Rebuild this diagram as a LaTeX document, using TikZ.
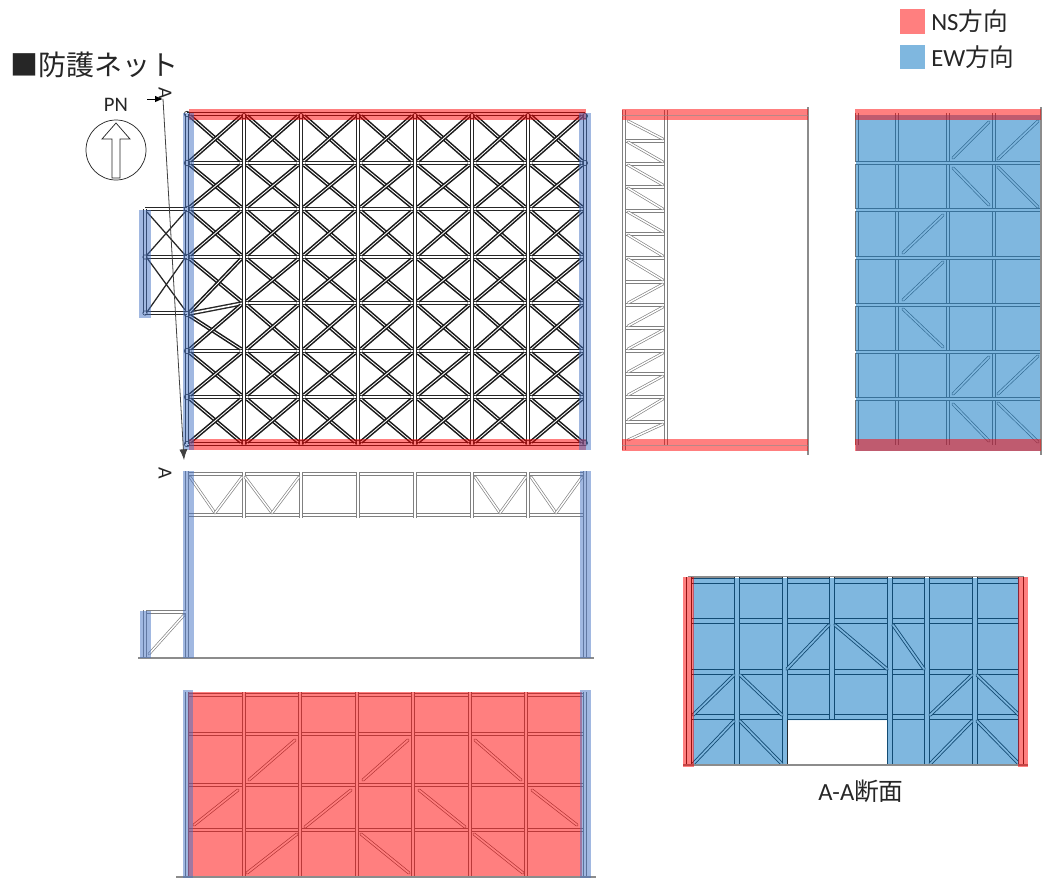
\documentclass[tikz,border=0pt]{standalone}
\usepackage{fontspec}
\setmainfont{Carlito}
\newfontfamily\jp{Noto Sans CJK JP}
\usetikzlibrary{arrows.meta}
\definecolor{bandred}{RGB}{255,0,0}
\definecolor{panelblue}{RGB}{0,112,192}
\definecolor{bandblue}{RGB}{68,114,196}
\tikzset{
  x=.75pt,y=-.75pt,
  planmem/.style={draw=black!85,line width=1.05pt,double=white,double distance=1.2pt},
  plandiag/.style={draw=black!90,line width=1.15pt,double=white,double distance=.65pt},
  thindiag/.style={draw=black!85,line width=.95pt},
  graymem/.style={draw=black!50,line width=.7pt,double=white,double distance=1.9pt},
  graydiag/.style={draw=black!50,line width=.5pt,double=white,double distance=1.1pt,line cap=round},
  softmem/.style={draw=black!55,line width=.55pt,double=white,double distance=2.2pt},
  softbrace/.style={draw=black!60,line width=.5pt,double=white,double distance=1.3pt,line cap=round},
  panelmem/.style={draw=black!85,line width=.7pt,double=white,double distance=2.4pt},
  panelbrace/.style={draw=black!85,line width=.65pt,double=white,double distance=1.3pt,line cap=round},
  ground/.style={draw=black!45,line width=.8pt},
  redband/.style={fill=bandred,fill opacity=.5,draw=none},
  blueband/.style={fill=bandblue,fill opacity=.5,draw=none},
  bluepanel/.style={fill=panelblue,fill opacity=.5,draw=none},
  joint/.style={draw=black!85,line width=.5pt},
  label/.style={inner sep=0pt,text=black!85},
}
\begin{document}
\begin{tikzpicture}
\useasboundingbox (0,0) rectangle (1042,879);

% ---------- Plan ----------
\foreach \y in {163,209,257,351,397} \draw[planmem] (187,\y) -- (585,\y);
\draw[planmem] (244,303) -- (585,303);
\draw[planmem] (187,114) -- (585,114);
\draw[planmem] (187,444) -- (585,444);
\draw[planmem] (187,314) -- (244,303);
\foreach \ya/\yb in {114/163,163/209,209/257,257/303,303/351,351/397,397/444}{
  \foreach \xa/\xb in {244/301,301/358,358/415,415/472,472/528,528/585}{
    \draw[plandiag] (\xa+3,\ya+2) -- (\xb-3,\yb-2);
    \draw[plandiag] (\xa+3,\yb-2) -- (\xb-3,\ya+2);
  }
}
\foreach \yal/\ybl/\yar/\ybr in {114/163/114/163,163/209/163/209,209/257/209/257,257/314/257/303,314/351/303/351,351/397/351/397,397/444/397/444}{
    \draw[plandiag] (190,\yal+2) -- (241,\ybr-2);
    \draw[plandiag] (190,\ybl-2) -- (241,\yar+2);
}
\foreach \x in {187,244,301,358,415,472,528,585} \draw[planmem] (\x,114) -- (\x,444);
% side bay
\foreach \y in {209,257,313} \draw[planmem] (145,\y) -- (187,\y);
\draw[planmem] (145,209) -- (145,313);
\draw[thindiag] (147,212) -- (185,255);
\draw[thindiag] (147,255) -- (185,212);
\draw[thindiag] (147,258) -- (185,310);
\draw[thindiag] (147,312) -- (185,258);
% joints
\foreach \y in {114,163,209,257,314,351,397,444} \draw[joint] (187,\y) circle[radius=2.8];
\foreach \x in {244,301,358,415,472,528,585}{
  \draw[joint] (\x,116) circle[radius=2.6];
  \draw[joint] (\x,443) circle[radius=2.6];
}
\draw[joint] (585,163) circle[radius=2.6];
\draw[joint] (145,257) circle[radius=2.2];
\draw[joint] (145,313) circle[radius=2.2];
% bands
\fill[redband] (189,109) rectangle (586,120);
\fill[redband] (189,439) rectangle (586,450);
\fill[blueband] (183,113) rectangle (194,450);
\fill[blueband] (579,113) rectangle (591,450);
\fill[blueband] (139,210) rectangle (151,318);

% ---------- Section arrows ----------
\coordinate (sa) at (147,99);
\coordinate (sb) at (163,99);
\coordinate (sc) at (184,460);
\draw[line width=.75pt,-{Latex[length=6pt,width=5pt]}] (sa) -- (sb);
\draw[line width=.6pt,black!75,-{Latex[length=8pt,width=6pt]}] (sb) -- (sc);
\node[label,rotate=-90,font=\fontsize{15}{15}\selectfont] (atop) at (165,93) {A};
\node[label,rotate=-90,font=\fontsize{15}{15}\selectfont] (abot) at (165,473) {A};

% ---------- South elevation, open ----------
\draw[graymem] (189,474) -- (585,474);
\draw[graymem] (189,515) -- (585,515);
\foreach \x in {244,301,358,415,472,528} \draw[graymem] (\x,472) -- (\x,518);
\foreach \xa/\xm/\xb in {190/215/242,245/272/299,475/500/526,531/556/582}{
  \draw[graydiag] (\xa,477) -- (\xm,513);
  \draw[graydiag] (\xm,513) -- (\xb,477);
}
\draw[graymem] (187,471) -- (187,658);
\draw[graymem] (585,471) -- (585,658);
\draw[graymem] (145,612) -- (186,612);
\draw[graymem] (145,610) -- (145,658);
\draw[graydiag] (149,654) -- (184,615);
\draw[ground] (138,658) -- (594,658);
\fill[blueband] (183,471) rectangle (194,658);
\fill[blueband] (580,471) rectangle (591,658);
\fill[blueband] (140,611) rectangle (151,658);

% ---------- Red elevation ----------
\foreach \y in {695,734,785,830} \draw[softmem] (187,\y) -- (585,\y);
\foreach \x in {244,300,357,413,470,526} \draw[softmem] (\x,692) -- (\x,877);
\draw[softmem] (187,692) -- (187,877);
\draw[softmem] (585,692) -- (585,877);
\foreach \a/\b/\c/\d in {249/780/295/740,363/780/408/740,475/740/521/780,194/825/238/790,305/827/351/790,419/790/465/827,532/790/577/825,247/873/297/834,361/834/409/873,474/834/523/873}
  \draw[softbrace] (\a,\b) -- (\c,\d);
\fill[redband] (188,692) rectangle (582,878);
\draw[ground] (176,877) -- (596,877);
\fill[blueband] (183,690) rectangle (193,878);
\fill[blueband] (580,690) rectangle (591,878);

% ---------- Middle elevation ----------
\foreach \y in {141,164,187,211,234,258,282,305,328,351,374,397,422}
  \draw[graymem] (624,\y) -- (666,\y);
\draw[graymem] (624,110) -- (624,450);
\draw[graymem] (666,110) -- (666,445);
\foreach \ya/\yb in {120/141,141/164,164/187,187/211,211/234,234/258,258/282}
  \draw[graydiag] (628,\ya+1) -- (663,\yb-2);
\foreach \ya/\yb in {282/305,305/328,328/351,351/374,374/397,397/422,422/442}
  \draw[graydiag] (628,\yb-2) -- (663,\ya+2);
\draw[ground] (808,107) -- (808,455);
\fill[redband] (622,109) rectangle (808,120);
\draw[draw=black!45,line width=.5pt,opacity=.6] (622,115) -- (808,115);
\fill[redband] (622,439) rectangle (808,451);
\draw[draw=black!45,line width=.5pt,opacity=.6] (622,445) -- (808,445);

% ---------- East elevation ----------
\foreach \x in {857,897,948,994} \draw[softmem] (\x,113) -- (\x,445);
\foreach \y in {163,210,258,305,352,399} \draw[softmem] (855,\y) -- (1040,\y);
\foreach \a/\b/\c/\d in {953/158/989/122,998/159/1038/121,953/168/989/205,998/167/1038/207,903/253/943/215,903/300/943/262,903/309/943/347,953/394/989/357,998/394/1038/356,953/404/989/441,998/403/1038/442}
  \draw[softbrace] (\a,\b) -- (\c,\d);
\fill[bluepanel] (856,115) rectangle (1040,451);
\draw[ground] (1041,107) -- (1041,455);
\fill[redband] (855,109) rectangle (1041,120);
\fill[redband] (855,439) rectangle (1041,451);

% ---------- Section A-A ----------
\draw[ground] (688,577) -- (1024,577);
\foreach \y in {581,621,672,717} \draw[panelmem] (688,\y) -- (1022,\y);
\foreach \x in {737,785,890,927,975} \draw[panelmem] (\x,577) -- (\x,765);
\draw[panelmem] (832,577) -- (832,719);
\foreach \a/\b/\c/\d in {787/669/829/625,835/625/887/669,893/625/924/669,693/715/734/675,740/675/782/715,930/715/972/675,977/675/1019/715,693/764/734/721,740/721/782/764,930/764/972/721,977/721/1019/764}
  \draw[panelbrace] (\a,\b) -- (\c,\d);
\draw[panelmem] (689,577) -- (689,765);
\draw[panelmem] (1021,577) -- (1021,765);
\fill[bluepanel] (693,578) -- (1019,578) -- (1019,765) -- (887,765) -- (887,720) -- (787,720) -- (787,765) -- (693,765) -- cycle;
\draw[ground] (683,765) -- (1028,765);
\fill[redband] (683,577) rectangle (694,767);
\fill[redband] (1018,577) rectangle (1028,767);
\node[label,font=\fontsize{18.5}{18.5}\selectfont] (aacap) at (861,791) {A-A{\jp 断面}};

% ---------- Compass ----------
\draw[line width=.55pt,black!85] (116,150) circle[radius=30];
\draw[line width=.55pt,black!85,fill=white] (116,123) -- (130,139) -- (120,139) -- (120,178) -- (112,178) -- (112,139) -- (102,139) -- cycle;
\node[label,font=\fontsize{15.5}{15.5}\selectfont] (pn) at (116,105) {PN};

% ---------- Title and legend ----------
\node[label,anchor=west,font=\fontsize{21}{21}\jp\selectfont] (title) at (10,65) {■防護ネット};
\fill[fill=bandred,fill opacity=.5] (900,9) rectangle (925,34);
\fill[fill=panelblue,fill opacity=.5] (900,45) rectangle (925,69);
\node[label,anchor=west,font=\fontsize{18.5}{18.5}\selectfont] (nslabel) at (931,21) {NS{\jp 方向}};
\node[label,anchor=west,font=\fontsize{18.5}{18.5}\selectfont] (ewlabel) at (931,57) {EW{\jp 方向}};
\end{tikzpicture}
\end{document}
